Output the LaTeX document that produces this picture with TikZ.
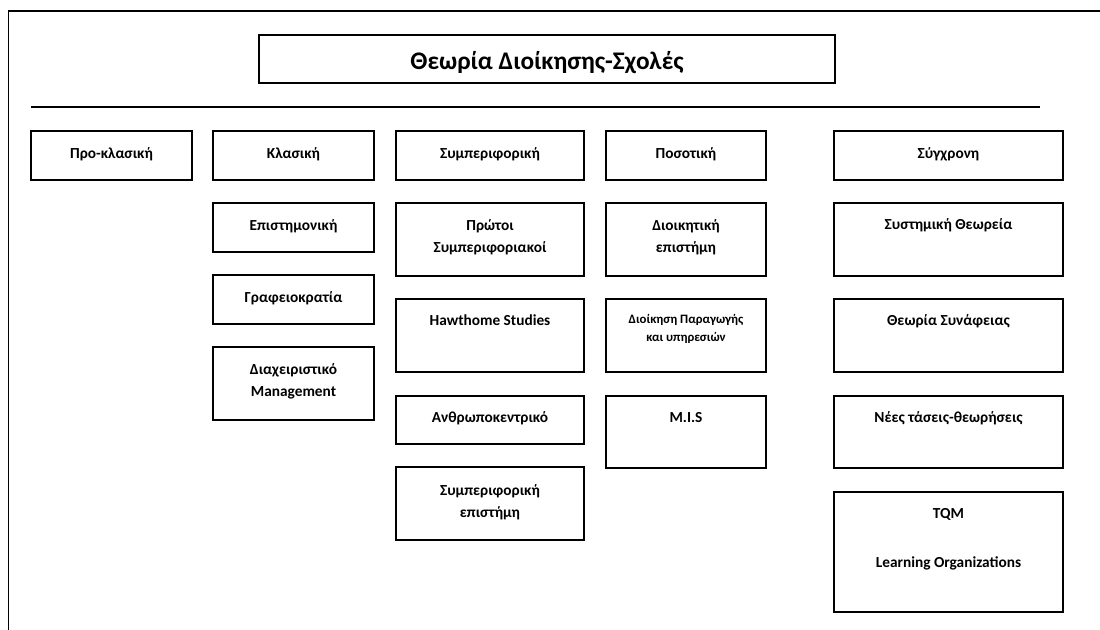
\documentclass[tikz,border=0pt]{standalone}
\usepackage{fontspec}
\setmainfont{Carlito}
\begin{document}
\begin{tikzpicture}[x=0.75pt,y=-0.75pt,
  box/.style={draw=black,line width=1.4pt,inner sep=0pt,outer sep=0pt},
  lbl/.style={font=\bfseries\fontsize{11.5}{16.5}\selectfont,align=center,anchor=base,inner sep=0pt},
  slbl/.style={font=\bfseries\fontsize{9.6}{14.2}\selectfont,align=center,anchor=base,inner sep=0pt},
  tlbl/.style={font=\bfseries\fontsize{19}{22}\selectfont,anchor=base,inner sep=0pt},
  frame/.style={line width=1.4pt}]
\useasboundingbox (0,0) rectangle (1100,630);
\newcommand\bx[6]{%
  \node[box,minimum width={(#4-#2)*0.75pt},minimum height={(#5-#3)*0.75pt}] (#1) at ({(#2+#4)/2},{(#3+#5)/2}) {};
  \coordinate (#1c) at ({(#2+#4)/2},#6);}
% frame
\coordinate (fa) at (8.5,631);
\coordinate (fb) at (8.5,11);
\coordinate (fc) at (1101,11);
\draw[frame] (fa) -- (fb) -- (fc);
% title
\bx{title}{259}{35}{835}{83}{70}
\node[tlbl] (titlet) at (titlec) {Θεωρία Διοίκησης-Σχολές};
% separator
\coordinate (s1) at (31,107);
\coordinate (s2) at (1040,107);
\draw[frame] (s1) -- (s2);
% row 1
\bx{pro}{31}{131}{192}{180}{159}
\node[lbl] (prot) at (proc) {Προ-κλασική};
\bx{kla}{213}{131}{374}{180}{159}
\node[lbl] (klat) at (klac) {Κλασική};
\bx{sym}{396}{131}{584}{180}{159}
\node[lbl] (symt) at (symc) {Συμπεριφορική};
\bx{pos}{606}{131}{766}{180}{159}
\node[lbl] (post) at (posc) {Ποσοτική};
\bx{syg}{834}{131}{1063}{180}{159}
\node[lbl] (sygt) at (sygc) {Σύγχρονη};
% Klasiki column
\bx{epi}{213}{203}{374}{252}{231}
\node[lbl] (epit) at (epic) {Επιστημονική};
\bx{gra}{213}{275}{374}{324}{303}
\node[lbl] (grat) at (grac) {Γραφειοκρατία};
\bx{dia}{213}{347}{374}{420}{397}
\node[lbl] (diat) at (diac) {Διαχειριστικό\\Management};
% Symperiforiki column
\bx{pro2}{396}{203}{584}{276}{253}
\node[lbl] (pro2t) at (pro2c) {Πρώτοι\\Συμπεριφοριακοί};
\bx{haw}{396}{299}{584}{372}{326}
\node[lbl] (hawt) at (hawc) {Hawthome Studies};
\bx{anth}{396}{396}{584}{444}{423}
\node[lbl] (antht) at (anthc) {Ανθρωποκεντρικό};
\bx{sep}{396}{467}{584}{540}{518}
\node[lbl] (sept) at (sepc) {Συμπεριφορική\\επιστήμη};
% Posotiki column
\bx{dio}{606}{203}{766}{276}{253}
\node[lbl] (diot) at (dioc) {Διοικητική\\επιστήμη};
\bx{par}{606}{299}{766}{372}{342}
\node[slbl] (part) at (parc) {Διοίκηση Παραγωγής\\και υπηρεσιών};
\bx{mis}{606}{396}{766}{468}{423}
\node[lbl] (mist) at (misc) {M.I.S};
% Syngroni column
\bx{sys}{834}{203}{1063}{276}{230}
\node[lbl] (syst) at (sysc) {Συστημική Θεωρεία};
\bx{syn}{834}{299}{1063}{372}{326}
\node[lbl] (synt) at (sync) {Θεωρία Συνάφειας};
\bx{nee}{834}{396}{1063}{468}{423}
\node[lbl] (neet) at (neec) {Νέες τάσεις-θεωρήσεις};
\bx{tqm}{834}{492}{1063}{612}{519}
\node[lbl] (tqmt) at (tqmc) {TQM};
\coordinate (lrnc) at (948.5,568);
\node[lbl] (lrnt) at (lrnc) {Learning Organizations};
\end{tikzpicture}
\end{document}
